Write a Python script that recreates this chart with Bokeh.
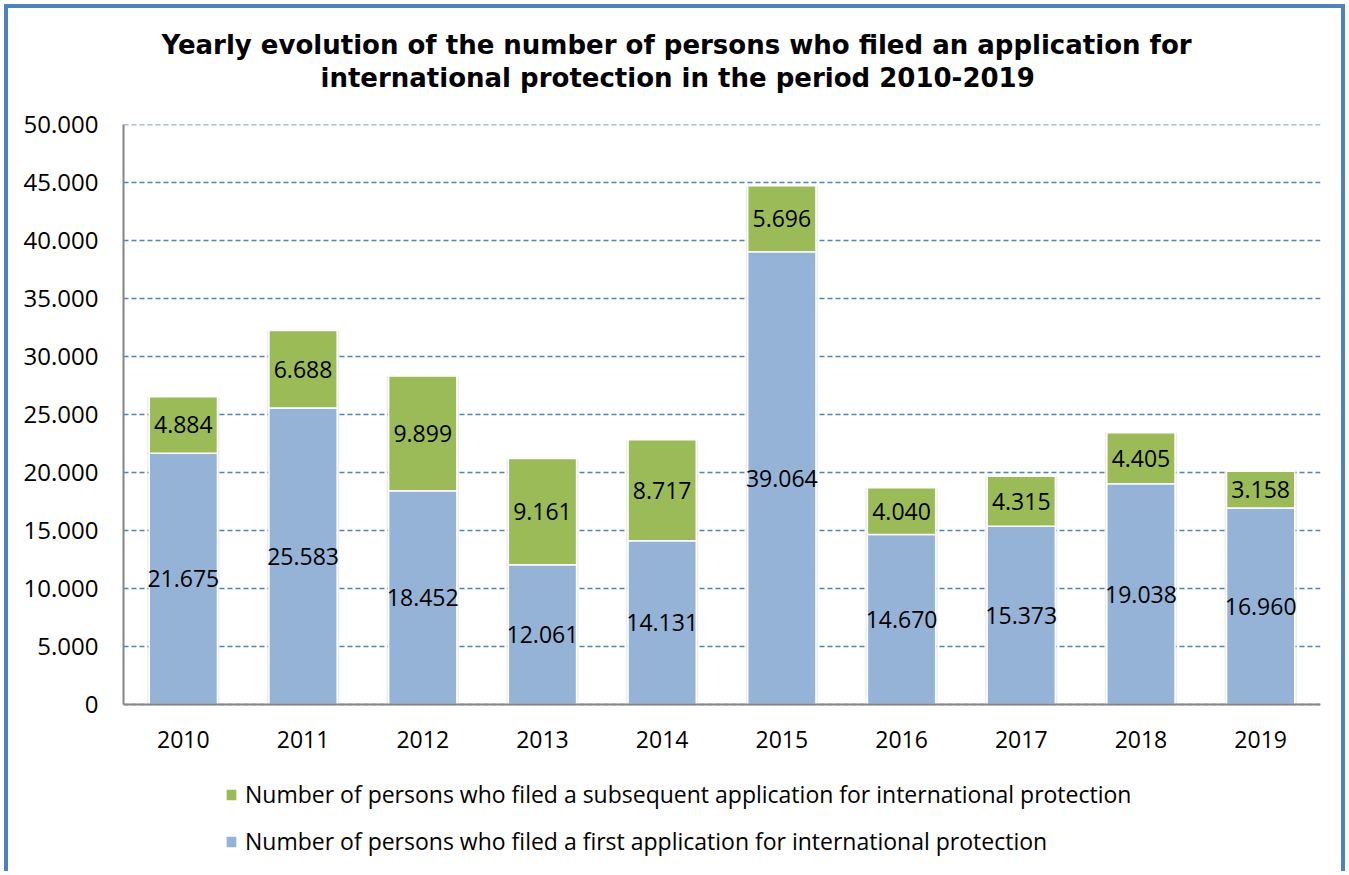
from bokeh.plotting import figure
from bokeh.models import Range1d, FactorRange, Legend, LegendItem, LabelSet, ColumnDataSource, Title
from bokeh.core.properties import value
from bokeh.embed import file_html
from bokeh.resources import INLINE

years = ["2010", "2011", "2012", "2013", "2014", "2015", "2016", "2017", "2018", "2019"]
first = [21675, 25583, 18452, 12061, 14131, 39064, 14670, 15373, 19038, 16960]
subsequent = [4884, 6688, 9899, 9161, 8717, 5696, 4040, 4315, 4405, 3158]
y_ticks = [0, 5000, 10000, 15000, 20000, 25000, 30000, 35000, 40000, 45000, 50000]
y_tick_labels = ["0", "5.000", "10.000", "15.000", "20.000", "25.000", "30.000",
                 "35.000", "40.000", "45.000", "50.000"]
label_first = "Number of persons who filed a first application for international protection"
label_subsequent = "Number of persons who filed a subsequent application for international protection"
title_line1 = "Yearly evolution of the number of persons who filed an application for"
title_line2 = "international protection in the period 2010-2019"

BLUE = "#95B3D7"
GREEN = "#9BBB59"
FONT = "Open Sans"

# layout (pixels)
W, H = 1341, 867
TOP, LEFT, RIGHT = 116, 115, 29
PLOT_H = 580           # pixels between value 0 and the top of the value axis
Y_TOP = 50040
frame_h = H - TOP
y_start = Y_TOP - frame_h * Y_TOP / PLOT_H   # room under zero for the legend


def fmt(v):
    return f"{v:,}".replace(",", ".")


p = figure(x_range=FactorRange(*years), y_range=Range1d(y_start, Y_TOP),
           width=W, height=H, output_backend="svg", toolbar_location=None,
           min_border_left=LEFT, min_border_right=RIGHT, min_border_top=TOP,
           min_border_bottom=0)
p.styles = {"border-left": "4px solid #4F81BD", "border-right": "4px solid #4F81BD",
            "border-top": "4px solid #4F81BD", "margin-left": "4px", "margin-top": "4px"}
p.outline_line_color = None
p.background_fill_color = "white"
p.border_fill_color = "white"

p.title = None
spacer_top = Title(text=" ", text_font_size="1px", standoff=28)
t2 = Title(text=title_line2, align="left", text_font="DejaVu Sans",
           text_font_style="bold", text_font_size="26px", text_color="black",
           offset=197, standoff=2)
t1 = Title(text=title_line1, align="left", text_font="DejaVu Sans",
           text_font_style="bold", text_font_size="26px", text_color="black",
           offset=38, standoff=0)
p.add_layout(spacer_top, "above")
p.add_layout(t2, "above")
p.add_layout(t1, "above")

src = ColumnDataSource(dict(year=years, first=first, subsequent=subsequent,
                            total=[f + s for f, s in zip(first, subsequent)]))
# soft shadow behind each bar
p.vbar(x="year", top="total", bottom=0, width=0.605, source=src,
       fill_color="black", fill_alpha=0.07, line_color=None)
rs = p.vbar_stack(["first", "subsequent"], x="year", width=0.57, source=src,
                  fill_color=[BLUE, GREEN], line_color="white", line_width=1.5)

lab = ColumnDataSource(dict(
    year=years + years,
    y=[f / 2 for f in first] + [f + s / 2 for f, s in zip(first, subsequent)],
    text=[fmt(f) for f in first] + [fmt(s) for s in subsequent],
))
p.add_layout(LabelSet(x="year", y="y", text="text", source=lab, text_align="center",
                      text_baseline="middle", text_font=value(FONT),
                      text_font_size="23px", text_color="black"))

p.xgrid.grid_line_color = None
p.ygrid.grid_line_color = "#4F81BD"
p.ygrid.grid_line_dash = "5 3"
p.ygrid.grid_line_width = 1.4
p.ygrid.ticker = y_ticks

p.yaxis.ticker = y_ticks
p.yaxis.bounds = (0, 50000)
p.yaxis.major_label_overrides = {t: l for t, l in zip(y_ticks, y_tick_labels)}
p.xaxis.fixed_location = 0
for ax in (p.xaxis, p.yaxis):
    ax.axis_line_color = "#868686"
    ax.axis_line_width = 2
    ax.major_tick_line_color = None
    ax.minor_tick_line_color = None
    ax.major_label_text_font = FONT
    ax.major_label_text_color = "black"
p.yaxis.major_label_text_font_size = "24px"
p.xaxis.major_label_text_font_size = "23px"
p.yaxis.major_label_standoff = 19
p.xaxis.major_label_standoff = 20
p.x_range.range_padding = 0

legend = Legend(items=[LegendItem(label=label_subsequent, renderers=[rs[1]]),
                       LegendItem(label=label_first, renderers=[rs[0]])],
                location=(101, 18), orientation="vertical",
                glyph_width=14, glyph_height=15, label_standoff=7,
                label_height=30, spacing=15,
                padding=0, margin=0, border_line_color=None,
                background_fill_alpha=0,
                label_text_font=FONT, label_text_font_size="23px",
                label_text_color="black")
p.add_layout(legend, "center")

open("out.html", "w").write(file_html(p, INLINE))
